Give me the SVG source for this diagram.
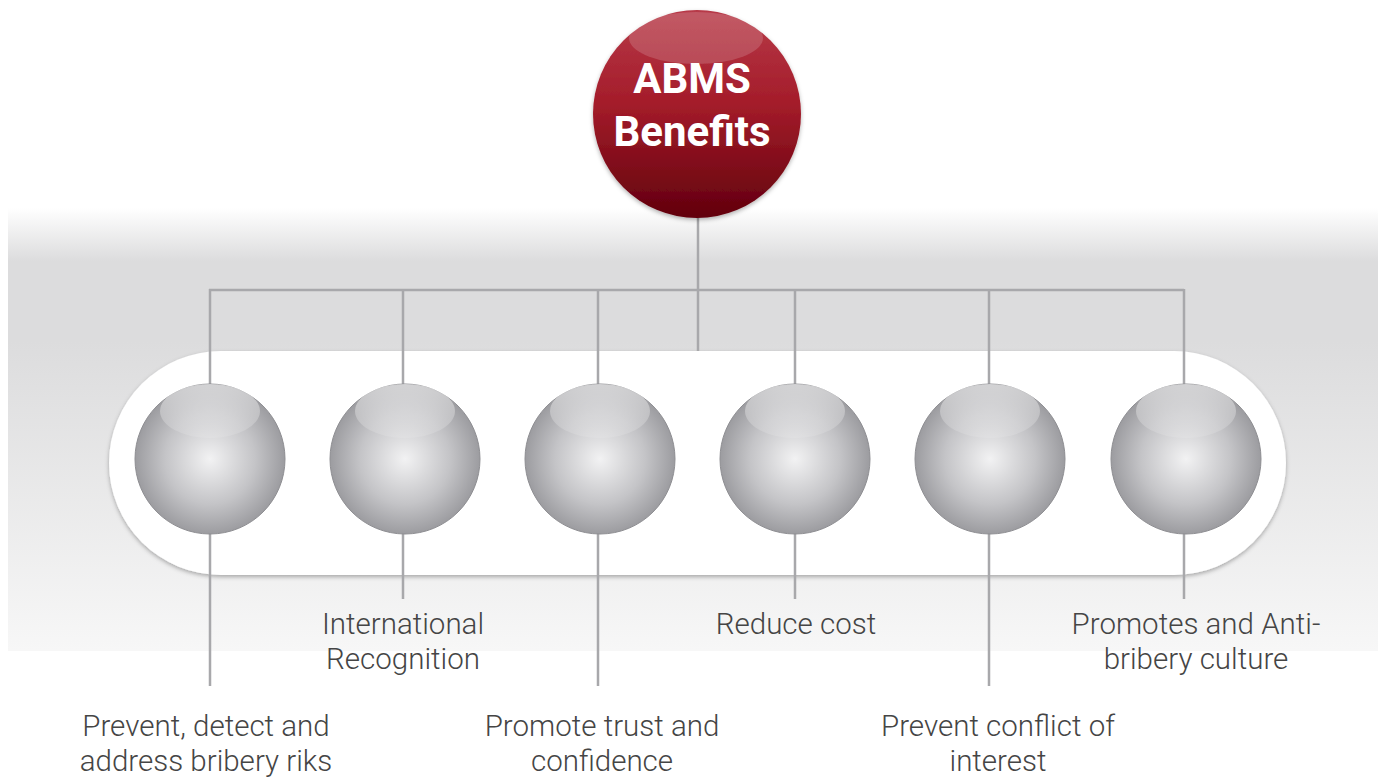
<svg xmlns="http://www.w3.org/2000/svg" width="1381" height="778" viewBox="0 0 1381 778">
<defs>
<linearGradient id="band" x1="0" y1="0" x2="0" y2="1">
<stop offset="0" stop-color="#ffffff"/>
<stop offset="0.12" stop-color="#dcdcdd"/>
<stop offset="0.3" stop-color="#dcdcdd"/>
<stop offset="1" stop-color="#f7f7f7"/>
</linearGradient>
<radialGradient id="sphere" cx="0.5" cy="0.5" r="0.5">
<stop offset="0" stop-color="#f2f2f3"/>
<stop offset="0.6" stop-color="#c4c4c7"/>
<stop offset="1" stop-color="#9c9ca0"/>
</radialGradient>
<linearGradient id="shine" x1="0" y1="0" x2="0" y2="1">
<stop offset="0" stop-color="#ffffff" stop-opacity="0.55"/>
<stop offset="1" stop-color="#ffffff" stop-opacity="0.1"/>
</linearGradient>
<linearGradient id="red" x1="0" y1="0" x2="0" y2="1">
<stop offset="0" stop-color="#b73a48"/>
<stop offset="0.45" stop-color="#a41c2a"/>
<stop offset="1" stop-color="#62000d"/>
</linearGradient>
<filter id="sh" x="-10%" y="-10%" width="120%" height="130%">
<feDropShadow dx="0" dy="2" stdDeviation="2" flood-color="#000" flood-opacity="0.3"/>
</filter>
</defs>
<style>
.conn line{stroke:#a8a8ab;stroke-width:2.5;fill:none}
.lbl{font-family:Roboto,"Liberation Sans",sans-serif;font-weight:300;font-size:29.5px;fill:#454545;text-anchor:middle}
.ttl{font-family:Roboto,"Liberation Sans",sans-serif;font-weight:700;font-size:42px;fill:#ffffff;text-anchor:middle}
.sp{fill:url(#sphere);stroke:#8e8e92;stroke-width:1}
.hl{fill:url(#shine)}
</style>
<rect x="8" y="208" width="1370" height="443" fill="url(#band)"/>
<rect id="pill" x="109" y="351" width="1177" height="224" rx="112" ry="112" fill="#ffffff" filter="url(#sh)"/>
<g id="connectors" class="conn">
<line x1="698" y1="215" x2="698" y2="351"/>
<line x1="209" y1="290" x2="1184" y2="290"/>
<line x1="210" y1="289" x2="210" y2="686"/>
<line x1="403" y1="289" x2="403" y2="599"/>
<line x1="598" y1="289" x2="598" y2="686"/>
<line x1="795" y1="289" x2="795" y2="599"/>
<line x1="989" y1="289" x2="989" y2="686"/>
<line x1="1184" y1="289" x2="1184" y2="599"/>
</g>
<g id="root">
<circle cx="697" cy="114" r="104" fill="url(#red)" filter="url(#sh)"/>
<ellipse cx="696" cy="38" rx="67" ry="26" fill="#ffffff" opacity="0.16"/>
<text class="ttl" x="692" y="93">ABMS</text>
<text class="ttl" x="692" y="146">Benefits</text>
</g>
<g id="n1"><circle class="sp" cx="210" cy="459" r="75"/><ellipse class="hl" cx="210" cy="411" rx="50" ry="27"/></g>
<g id="n2"><circle class="sp" cx="405" cy="459" r="75"/><ellipse class="hl" cx="405" cy="411" rx="50" ry="27"/></g>
<g id="n3"><circle class="sp" cx="600" cy="459" r="75"/><ellipse class="hl" cx="600" cy="411" rx="50" ry="27"/></g>
<g id="n4"><circle class="sp" cx="795" cy="459" r="75"/><ellipse class="hl" cx="795" cy="411" rx="50" ry="27"/></g>
<g id="n5"><circle class="sp" cx="990" cy="459" r="75"/><ellipse class="hl" cx="990" cy="411" rx="50" ry="27"/></g>
<g id="n6"><circle class="sp" cx="1186" cy="459" r="75"/><ellipse class="hl" cx="1186" cy="411" rx="50" ry="27"/></g>
<g id="l1"><text class="lbl" x="206" y="736">Prevent, detect and</text><text class="lbl" x="206" y="771">address bribery riks</text></g>
<g id="l2"><text class="lbl" x="403" y="634">International</text><text class="lbl" x="403" y="669">Recognition</text></g>
<g id="l3"><text class="lbl" x="602" y="736">Promote trust and</text><text class="lbl" x="602" y="771">confidence</text></g>
<g id="l4"><text class="lbl" x="796" y="634">Reduce cost</text></g>
<g id="l5"><text class="lbl" x="998" y="736">Prevent conflict of</text><text class="lbl" x="998" y="771">interest</text></g>
<g id="l6"><text class="lbl" x="1196" y="634">Promotes and Anti-</text><text class="lbl" x="1196" y="669">bribery culture</text></g>
</svg>
